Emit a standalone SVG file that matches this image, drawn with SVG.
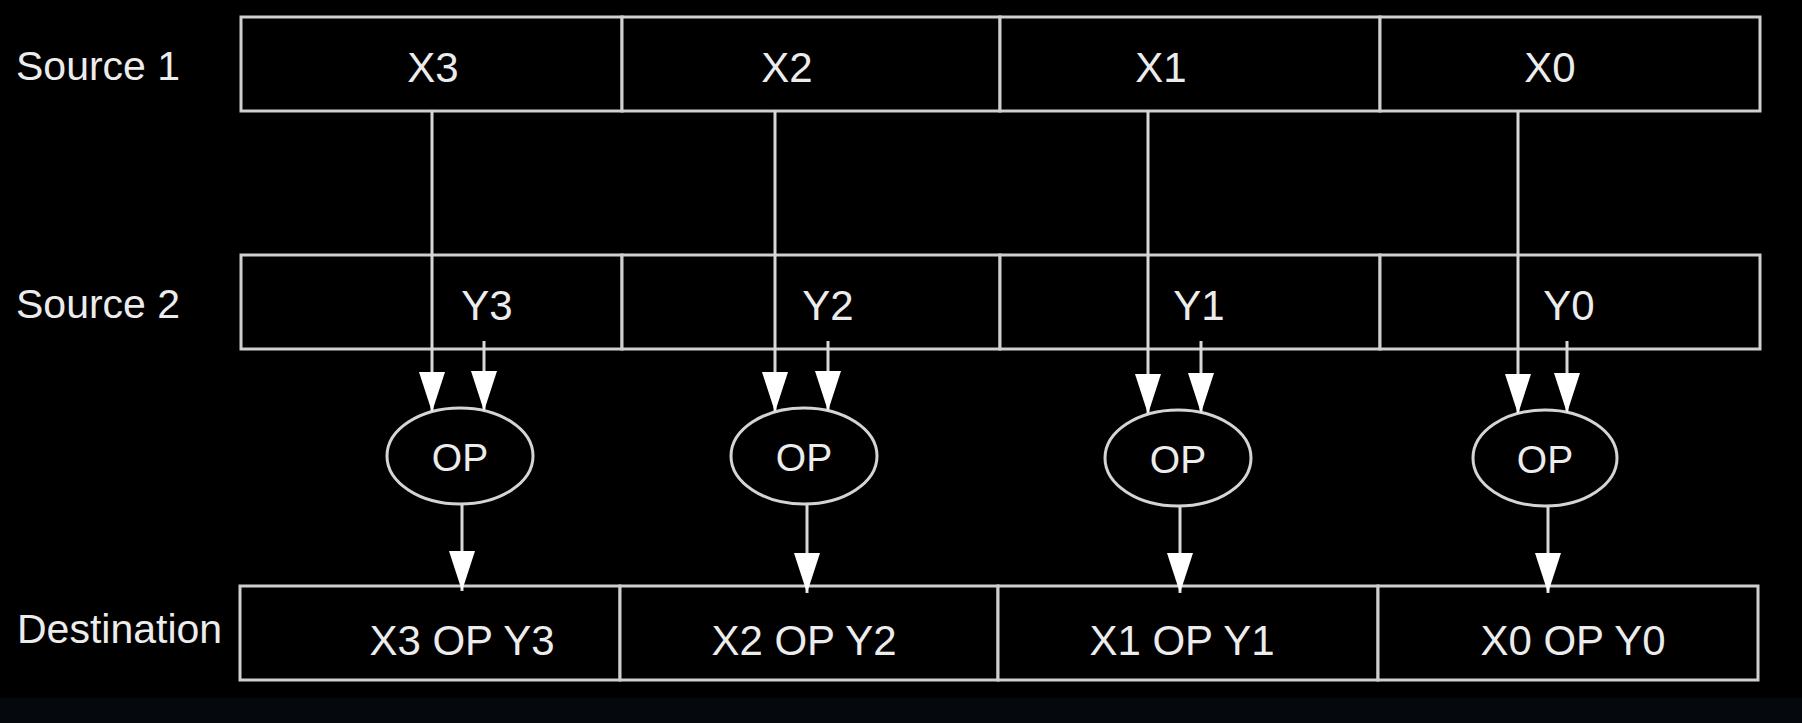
<svg xmlns="http://www.w3.org/2000/svg" width="1802" height="723" viewBox="0 0 1802 723">
<style>
.cell{fill:#000;stroke:#cfcfcf;stroke-width:3}
.op{fill:#000;stroke:#d4d4d4;stroke-width:3}
.t{font-family:"Liberation Sans",Arial,sans-serif;font-size:42px;fill:#ececec;text-anchor:middle}
.lbl{font-family:"Liberation Sans",Arial,sans-serif;font-size:41px;fill:#ececec}
.opt{font-family:"Liberation Sans",Arial,sans-serif;font-size:39px;fill:#ececec;text-anchor:middle}
.c{stroke:#d8d8d8;stroke-width:3;fill:none;marker-end:url(#ah)}
</style>
<defs>
<marker id="ah" viewBox="0 0 40 26" refX="40" refY="13" markerWidth="40" markerHeight="26" markerUnits="userSpaceOnUse" orient="auto">
<path d="M0,0 L40,13 L0,26 z" fill="#ffffff"/>
</marker>
</defs>
<rect x="0" y="0" width="1802" height="723" fill="#000"/>
<rect x="0" y="698" width="1802" height="25" fill="#05080c"/>

<g id="labels">
<text class="lbl" x="16" y="80">Source 1</text>
<text class="lbl" x="16" y="318">Source 2</text>
<text class="lbl" x="17" y="643">Destination</text>
</g>

<g id="src1-x3"><rect class="cell" x="241" y="17" width="381" height="94"/><text class="t" x="433" y="82">X3</text></g>
<g id="src1-x2"><rect class="cell" x="622" y="17" width="378" height="94"/><text class="t" x="787" y="82">X2</text></g>
<g id="src1-x1"><rect class="cell" x="1000" y="17" width="380" height="94"/><text class="t" x="1161" y="82">X1</text></g>
<g id="src1-x0"><rect class="cell" x="1380" y="17" width="380" height="94"/><text class="t" x="1550" y="82">X0</text></g>

<g id="src2-y3"><rect class="cell" x="241" y="255" width="381" height="94"/><text class="t" x="487" y="320">Y3</text></g>
<g id="src2-y2"><rect class="cell" x="622" y="255" width="378" height="94"/><text class="t" x="828" y="320">Y2</text></g>
<g id="src2-y1"><rect class="cell" x="1000" y="255" width="380" height="94"/><text class="t" x="1199" y="320">Y1</text></g>
<g id="src2-y0"><rect class="cell" x="1380" y="255" width="380" height="94"/><text class="t" x="1569" y="320">Y0</text></g>

<g id="op3"><ellipse class="op" cx="460" cy="456" rx="73" ry="48"/><text class="opt" x="460" y="471">OP</text></g>
<g id="op2"><ellipse class="op" cx="804" cy="456" rx="73" ry="48"/><text class="opt" x="804" y="471">OP</text></g>
<g id="op1"><ellipse class="op" cx="1178" cy="458" rx="73" ry="48"/><text class="opt" x="1178" y="473">OP</text></g>
<g id="op0"><ellipse class="op" cx="1545" cy="458" rx="72" ry="48"/><text class="opt" x="1545" y="473">OP</text></g>

<g id="dst3"><rect class="cell" x="240" y="586" width="380" height="94"/><text class="t" x="462" y="655">X3 OP Y3</text></g>
<g id="dst2"><rect class="cell" x="620" y="586" width="378" height="94"/><text class="t" x="804" y="655">X2 OP Y2</text></g>
<g id="dst1"><rect class="cell" x="998" y="586" width="380" height="94"/><text class="t" x="1182" y="655">X1 OP Y1</text></g>
<g id="dst0"><rect class="cell" x="1378" y="586" width="380" height="94"/><text class="t" x="1573" y="655">X0 OP Y0</text></g>

<g id="connectors">
<line class="c" x1="432" y1="111" x2="432" y2="412"/>
<line class="c" x1="484" y1="341" x2="484" y2="411"/>
<line class="c" x1="775" y1="111" x2="775" y2="412"/>
<line class="c" x1="828" y1="341" x2="828" y2="411"/>
<line class="c" x1="1148" y1="111" x2="1148" y2="414"/>
<line class="c" x1="1201" y1="341" x2="1201" y2="413"/>
<line class="c" x1="1518" y1="111" x2="1518" y2="414"/>
<line class="c" x1="1567" y1="341" x2="1567" y2="413"/>
<line class="c" x1="462" y1="504" x2="462" y2="591"/>
<line class="c" x1="807" y1="504" x2="807" y2="593"/>
<line class="c" x1="1180" y1="506" x2="1180" y2="593"/>
<line class="c" x1="1548" y1="506" x2="1548" y2="593"/>
</g>
</svg>
